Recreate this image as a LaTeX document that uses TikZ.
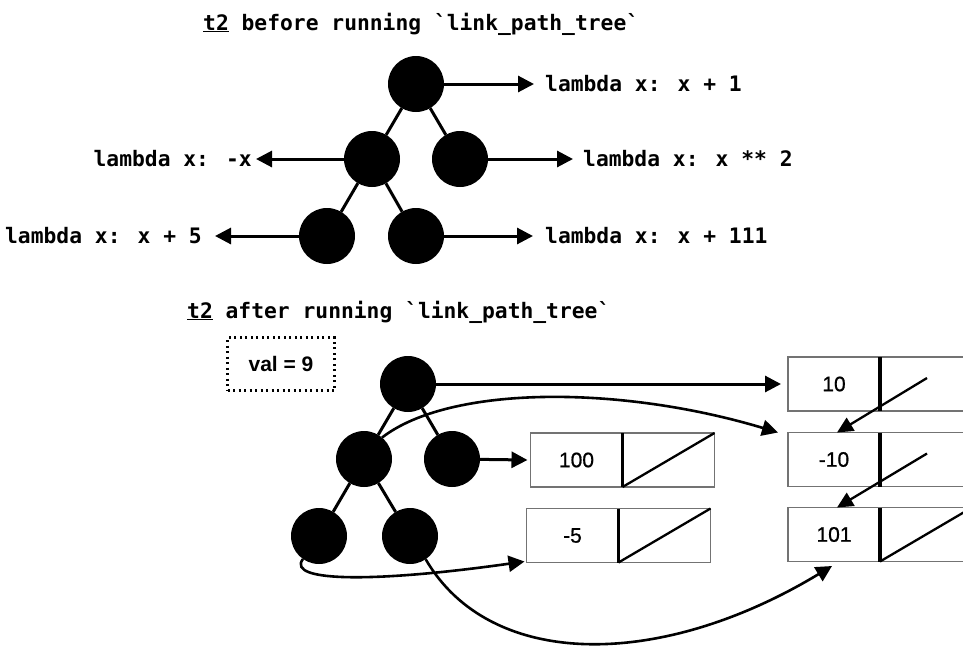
\documentclass[tikz,border=0pt]{standalone}
\usepackage{fontspec}
\setmainfont{Liberation Sans}
\newfontfamily\codefont{DejaVu Sans Mono}[Ligatures=TeXOff]
\newfontfamily\numfont{Liberation Sans}[FakeBold=0.8]
\usetikzlibrary{arrows.meta}
\begin{document}
\begin{tikzpicture}[x=1pt,y=-1pt,
  code/.style={font=\codefont\bfseries\fontsize{21.3}{24}\selectfont, inner sep=0pt},
  tn/.style={circle, fill=black, minimum size=56pt, inner sep=0pt, outer sep=0pt},
  treeedge/.style={line width=3pt},
  arr/.style={line width=3pt, -{Triangle[length=16pt,width=16pt]}},
  carr/.style={line width=2.6pt, -{Triangle[length=16pt,width=16pt]}},
  larr/.style={line width=2.3pt, -{Triangle[length=16pt,width=15pt]}},
  cell/.style={draw=black!55, line width=1.2pt, minimum width=92pt, minimum height=54pt, inner sep=0pt, outer sep=0pt, font=\numfont\fontsize{21}{24}\selectfont},
  divider/.style={line width=3.5pt},
  nil/.style={line width=2.3pt},
]
\clip (0,0) rectangle (963,648);

% ---------- titles ----------
\node[code, anchor=base west] (h1) at (203,30) {\underline{t2} before running `link\_path\_tree`};
\node[code, anchor=base west] (h2) at (187,318) {\underline{t2} after running `link\_path\_tree`};

% ---------- top tree ----------
\node[tn] (a0) at (416,84) {};
\node[tn] (a1) at (372,159) {};
\node[tn] (a2) at (460,159) {};
\node[tn] (a3) at (327,236) {};
\node[tn] (a4) at (416,236) {};
\draw[treeedge] (a0) -- (a1);
\draw[treeedge] (a0) -- (a2);
\draw[treeedge] (a1) -- (a3);
\draw[treeedge] (a1) -- (a4);

\node[code, anchor=west] (l0) at (545,84) {lambda x: x + 1};
\node[code, anchor=west] (l2) at (583,159) {lambda x: x ** 2};
\node[code, anchor=west] (l4) at (545,236) {lambda x: x + 111};
\node[code, anchor=east] (l1) at (252,159) {lambda x: -x};
\node[code, anchor=east] (l3) at (202,236) {lambda x: x + 5};

\draw[arr] (a0) -- ([xshift=-11pt]l0.west);
\draw[arr] (a2) -- ([xshift=-10pt]l2.west);
\draw[arr] (a4) -- ([xshift=-12pt]l4.west);
\draw[arr] (a1) -- ([xshift=4pt]l1.east);
\draw[arr] (a3) -- ([xshift=13pt]l3.east);

% ---------- bottom tree ----------
\node[draw, dash pattern=on 2pt off 3.5pt, line width=2.2pt, minimum width=107pt, minimum height=53pt,
      font=\bfseries\fontsize{21}{24}\selectfont] (val) at (281,364) {val = 9};

\node[tn] (b0) at (408,384) {};
\node[tn] (b1) at (364,459) {};
\node[tn] (b2) at (452,459) {};
\node[tn] (b3) at (319,536) {};
\node[tn] (b4) at (410,536) {};
\draw[treeedge] (b0) -- (b1);
\draw[treeedge] (b0) -- (b2);
\draw[treeedge] (b1) -- (b3);
\draw[treeedge] (b1) -- (b4);

% ---------- linked lists ----------
\node[cell] (f10) at (834,384) {10};
\node[cell, anchor=west] (r10) at (f10.east) {};
\node[cell] (fm10) at (834,459.5) {-10};
\node[cell, anchor=west] (rm10) at (fm10.east) {};
\node[cell] (f101) at (834,534.5) {101};
\node[cell, anchor=west] (r101) at (f101.east) {};
\node[cell] (f100) at (576.5,460) {100};
\node[cell, anchor=west] (r100) at (f100.east) {};
\node[cell] (fm5) at (572.5,535.5) {-5};
\node[cell, anchor=west] (rm5) at (fm5.east) {};

\foreach \c in {f10,fm10,f101,f100,fm5}
  \draw[divider] (\c.north east) -- (\c.south east);
\foreach \c in {r101,r100,rm5}
  \draw[nil] (\c.south west) -- (\c.north east);

\draw[larr] ([xshift=1pt,yshift=6pt]r10.center) -- ([xshift=3pt]fm10.north);
\draw[larr] ([xshift=1pt,yshift=6pt]rm10.center) -- ([xshift=3pt]f101.north);

% ---------- tree to lists ----------
\draw[arr] (b0) -- ([xshift=-7pt]f10.west);
\draw[arr] (b2) -- ([xshift=-3pt]f100.west);
\draw[carr] (b1.50) .. controls (450,385) and (620,385) .. ([xshift=-10pt]fm10.north west);
\draw[carr] (b3.235) .. controls (285,583) and (380,582) .. ([xshift=-2pt,yshift=1pt]fm5.south west);
\draw[carr] (b4.-56) .. controls (490,670) and (660,670) .. ([xshift=-2pt,yshift=-4.5pt]f101.south);
\end{tikzpicture}
\end{document}
